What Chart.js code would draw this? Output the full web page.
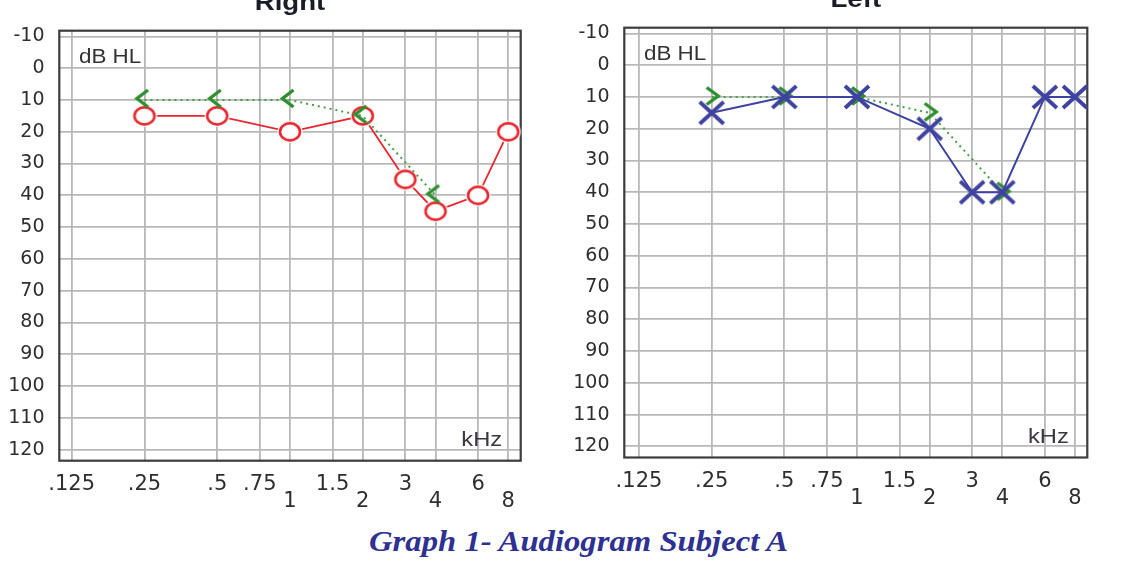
<!DOCTYPE html>
<html>
<head>
<meta charset="utf-8">
<script src="https://cdn.jsdelivr.net/npm/chart.js@4.4.1/dist/chart.umd.min.js"></script>
<style>
  html, body { margin: 0; padding: 0; background: #fff; }
  #page { position: relative; width: 1131px; height: 573px; overflow: hidden; }
  #rightEar { position: absolute; left: 0; top: 0; }
  #leftEar { position: absolute; left: 565px; top: 0; }
  #caption {
    position: absolute; left: 13px; top: 526px; width: 1131px;
    text-align: center; color: #2e3192;
    font: italic bold 30px/30px "Liberation Serif", serif;
    transform: scaleX(1.09); transform-origin: 565px 0;
  }
</style>
</head>
<body>
<div id="page">
  <canvas id="rightEar" width="560" height="520"></canvas>
  <canvas id="leftEar" width="566" height="520"></canvas>
  <div id="caption">Graph 1- Audiogram Subject A</div>
</div>
<script>
// axis ticks
const freqTicks = [0.125, 0.25, 0.5, 0.75, 1, 1.5, 2, 3, 4, 6, 8];
const freqLabels = ['.125', '.25', '.5', '.75', ['', '1'], '1.5', ['', '2'], '3', ['', '4'], '6', ['', '8']];
const dbTicks = [-10, 0, 10, 20, 30, 40, 50, 60, 70, 80, 90, 100, 110, 120];

// thresholds (dB HL)
const airFreqs = [0.25, 0.5, 1, 2, 3, 4, 6, 8];
const rightAir = [15, 15, 20, 15, 35, 45, 40, 20];
const leftAir = [15, 10, 10, 20, 40, 40, 10, 10];
const boneFreqs = [0.25, 0.5, 1, 2, 4];
const rightBone = [10, 10, 10, 15, 40];
const leftBone = [10, 10, 10, 15, 40];

const RED = '#e8262e';
const BLUE = '#3f43a0';
const GREEN = '#2f8f2f';

// marker glyphs
function marker(w, h, draw) {
  const c = document.createElement('canvas');
  c.width = w; c.height = h;
  draw(c.getContext('2d'), w / 2, h / 2);
  return c;
}
const ring = marker(32, 28, (g, cx, cy) => {
  g.fillStyle = '#fff';
  g.beginPath(); g.ellipse(cx, cy, 12.5, 11, 0, 0, Math.PI * 2); g.fill();
  g.strokeStyle = RED; g.lineWidth = 2.6;
  g.beginPath(); g.ellipse(cx, cy, 10, 8.6, 0, 0, Math.PI * 2); g.stroke();
});
const cross = marker(30, 28, (g, cx, cy) => {
  g.strokeStyle = BLUE; g.lineWidth = 3.8;
  g.beginPath();
  g.moveTo(cx - 12, cy - 11); g.lineTo(cx + 12, cy + 11);
  g.moveTo(cx + 12, cy - 11); g.lineTo(cx - 12, cy + 11);
  g.stroke();
});
const chevLeft = marker(24, 24, (g) => {
  g.strokeStyle = GREEN; g.lineWidth = 3.4;
  g.beginPath(); g.moveTo(15.5, 2); g.lineTo(4.5, 10.5); g.lineTo(15.5, 19); g.stroke();
});
const chevRight = marker(24, 24, (g) => {
  g.strokeStyle = GREEN; g.lineWidth = 3.4;
  g.beginPath(); g.moveTo(7, 2.5); g.lineTo(18.5, 11); g.lineTo(7, 19.5); g.stroke();
});

function stretchText(ctx, text, x, y, align, font, sx, color) {
  ctx.save();
  ctx.translate(x, y);
  ctx.scale(sx, 1);
  ctx.font = font;
  ctx.fillStyle = color;
  ctx.textAlign = align;
  ctx.textBaseline = 'alphabetic';
  ctx.fillText(text, 0, 0);
  ctx.restore();
}

// frame, title and unit labels
const decor = {
  id: 'decor',
  beforeDatasetsDraw(chart) {
    const { ctx, chartArea: a } = chart;
    ctx.save();
    ctx.strokeStyle = '#3c3c3c';
    ctx.lineWidth = 2.2;
    ctx.strokeRect(a.left, a.top, a.right - a.left, a.bottom - a.top);
    ctx.restore();
  },
  afterDraw(chart, args, opts) {
    const { ctx, chartArea: a } = chart;
    stretchText(ctx, opts.title, (a.left + a.right) / 2, a.top - 20.5, 'center', 'bold 24px "Liberation Sans"', 1.15, '#1c1c28');
    stretchText(ctx, 'dB HL', a.left + 19.7, a.top + 32.6, 'left', '20px "Liberation Sans"', 1.12, '#333');
    stretchText(ctx, 'kHz', a.right - 18.5, a.bottom - 15, 'right', '21px "Liberation Sans"', 1.13, '#3a3642');
  }
};

const xFont = { family: 'DejaVu Sans', size: 21, lineHeight: 0.81 };
const yFont = { family: 'DejaVu Sans', size: 19, lineHeight: 1 };
const gridOpts = { color: '#b8b8b8', lineWidth: 1.8, drawTicks: false };

function points(xs, ys) {
  return xs.map((x, i) => ({ x: x, y: ys[i] }));
}

function audiogram(id, o) {
  return new Chart(document.getElementById(id), {
    type: 'line',
    data: { datasets: o.datasets },
    options: {
      responsive: false,
      animation: false,
      devicePixelRatio: 1,
      events: [],
      layout: { padding: { left: 0, top: o.top, right: o.right, bottom: 0 } },
      plugins: {
        legend: { display: false },
        tooltip: { enabled: false },
        decor: { title: o.title }
      },
      scales: {
        x: {
          type: 'logarithmic',
          min: o.xMin,
          max: o.xMax,
          afterBuildTicks: (s) => { s.ticks = freqTicks.map((v) => ({ value: v })); },
          afterFit: (s) => { s.height = o.xAxisHeight; },
          ticks: {
            autoSkip: false, maxRotation: 0, minRotation: 0, padding: 15.5,
            color: '#2e2e2e', font: xFont,
            callback: (v, i) => freqLabels[i]
          },
          grid: gridOpts,
          border: { display: false }
        },
        y: {
          type: 'linear',
          reverse: true,
          min: -11.8,
          max: 123.5,
          afterBuildTicks: (s) => { s.ticks = dbTicks.map((v) => ({ value: v })); },
          afterFit: (s) => { s.width = 59.3; },
          ticks: { padding: 14.8, color: '#2e2e2e', font: yFont, callback: (v) => String(v) },
          grid: gridOpts,
          border: { display: false }
        }
      }
    },
    plugins: [decor]
  });
}

// Right ear: bone drawn on top
audiogram('rightEar', {
  title: 'Right', top: 30.7, right: 39.3, xAxisHeight: 59.3, xMin: 0.11108, xMax: 9.003,
  datasets: [
    {
      data: points(boneFreqs, rightBone),
      borderColor: '#45a045', borderWidth: 2, borderDash: [2, 4],
      pointStyle: chevLeft, pointRadius: 10, tension: 0, clip: false
    },
    {
      data: points(airFreqs, rightAir),
      borderColor: RED, borderWidth: 1.8,
      pointStyle: ring, pointRadius: 10, tension: 0, clip: false
    }
  ]
});

// Left ear: air drawn on top
audiogram('leftEar', {
  title: 'Left', top: 27.7, right: 43.7, xAxisHeight: 62.5, xMin: 0.10865, xMax: 8.996,
  datasets: [
    {
      data: points(airFreqs, leftAir),
      borderColor: BLUE, borderWidth: 2,
      pointStyle: cross, pointRadius: 10, tension: 0, clip: false
    },
    {
      data: points(boneFreqs, leftBone),
      borderColor: '#45a045', borderWidth: 2, borderDash: [2, 4],
      pointStyle: chevRight, pointRadius: 10, tension: 0, clip: false
    }
  ]
});
</script>
</body>
</html>
